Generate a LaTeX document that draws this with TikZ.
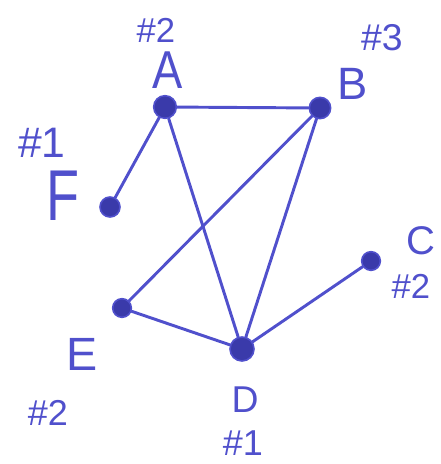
\documentclass[tikz,border=0pt]{standalone}
\usepackage{fontspec}
\setmainfont{Liberation Sans}
\definecolor{ink}{HTML}{5050CC}
\definecolor{dotink}{HTML}{3A3AAA}
\begin{document}
\begin{tikzpicture}[x=0.75pt,y=-0.75pt,
  vert/.style={circle,fill=dotink,draw=ink,line width=1.2pt,inner sep=0pt,minimum size=#1},
  vert/.default=16pt,
  edge/.style={draw=ink,line width=2.2pt,line cap=round},
  lab/.style={text=ink,inner sep=0pt}]
\useasboundingbox (0,0) rectangle (440,464);
\node[vert=17pt] (A) at (165,107) {};
\node[vert=16pt] (B) at (320,108) {};
\node[vert=15pt] (F) at (110,207) {};
\node[vert=14pt] (C) at (371,261) {};
\node[vert=14pt] (E) at (122,308) {};
\node[vert=18pt] (D) at (242,349) {};
\draw[edge] (A) -- (B);
\draw[edge] (A) -- (F);
\draw[edge] (A) -- (D);
\draw[edge] (B) -- (E);
\draw[edge] (B) -- (D);
\draw[edge] (E) -- (D);
\draw[edge] (D) -- (C);
\node[lab,font=\fontsize{40}{44}\selectfont,xscale=0.85] (lA) at (168,70) {A};
\node[lab,font=\fontsize{26}{30}\selectfont] (nA) at (156,30) {\#2};
\node[lab,font=\fontsize{34}{38}\selectfont] (lB) at (353,84) {B};
\node[lab,font=\fontsize{28}{32}\selectfont] (nB) at (382,38) {\#3};
\node[lab,font=\fontsize{54}{58}\selectfont,xscale=0.75] (lF) at (63,196) {F};
\node[lab,font=\fontsize{32}{36}\selectfont] (nF) at (42,143) {\#1};
\node[lab,font=\fontsize{30}{34}\selectfont] (lC) at (421,241) {C};
\node[lab,font=\fontsize{26}{30}\selectfont] (nC) at (411,286) {\#2};
\node[lab,font=\fontsize{35}{38}\selectfont] (lE) at (82,354) {E};
\node[lab,font=\fontsize{27}{30}\selectfont] (nE) at (48,413) {\#2};
\node[lab,font=\fontsize{28}{32}\selectfont] (lD) at (245,400) {D};
\node[lab,font=\fontsize{27}{30}\selectfont] (nD) at (243,443) {\#1};
\end{tikzpicture}
\end{document}
